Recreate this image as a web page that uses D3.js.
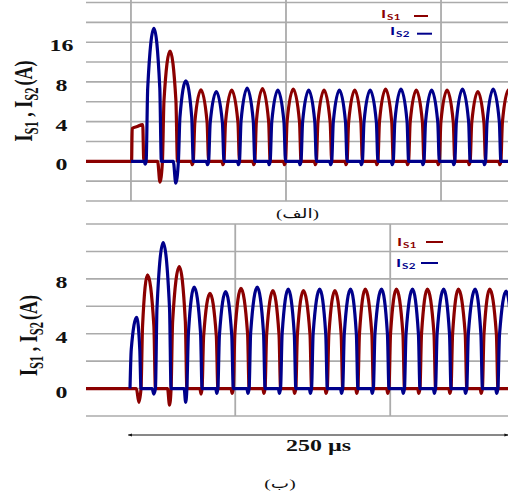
<!DOCTYPE html>
<html>
<head>
<meta charset="utf-8">
<script src="https://cdn.jsdelivr.net/npm/d3@7"></script>
<style>
  body { margin: 0; background: #fff; }
  svg { display: block; }
</style>
</head>
<body>
<svg id="chart" width="508" height="493"></svg>
<script>
// ---- Switch currents I_S1 (red) and I_S2 (blue), time in µs, current in A ----

// tick values and the labels printed beside them
const tickValuesTop = [0, 4, 8, 12];
const tickLabelsTop = ["0", "4", "8", "16"];
const tickValuesBot = [0, 4, 8];
const tickLabelsBot = ["0", "4", "8"];

// grid positions
const gridValuesTop = [-4, -2, 0, 2, 4, 6, 8, 10, 12, 14, 16];
const gridValuesBot = [-2, 0, 2, 4, 6, 8, 10, 12];
const gridTimesTop = [0, 100, 200];
const gridTimesBot = [0, 100, 200];

const seriesKeys = ["S1", "S2"];
const panelLabels = ["(الف)", "(ب)"];
const spanLabel = "250 µs";
const spanTimes = [31, 276];

// panel (الف): [time, current]
const topS1 = [
  [-29,0],[0.4,0],[0.8,3.3],[4.0,3.5],[7.6,3.7],[8.2,0.3],[8.6,0],
  [17.2,0],[18.7,-2.1],[20.3,0],[21.3,6.1],[25.2,11.1],[29.0,6.1],[30.0,0],
  [38.8,0],[39.5,-0.35],[40.2,0],[41.2,3.96],[45.15,7.2],[49.1,3.96],[50.1,0],
  [58.6,0],[59.3,-0.35],[60.0,0],[61.0,3.94],[65.0,7.17],[69.0,3.94],[70.0,0],
  [78.5,0],[79.2,-0.35],[79.9,0],[80.9,4.03],[84.85,7.33],[88.8,4.03],[89.8,0],
  [98.3,0],[99.0,-0.35],[99.7,0],[100.7,4.0],[104.7,7.27],[108.7,4.0],[109.7,0],
  [118.2,0],[118.9,-0.35],[119.6,0],[120.6,3.94],[124.55,7.17],[128.5,3.94],[129.5,0],
  [138.0,0],[138.7,-0.35],[139.4,0],[140.4,3.94],[144.35,7.17],[148.3,3.94],[149.3,0],
  [157.9,0],[158.6,-0.35],[159.3,0],[160.3,4.0],[164.25,7.27],[168.2,4.0],[169.2,0],
  [177.7,0],[178.4,-0.35],[179.1,0],[180.1,3.94],[184.05,7.17],[188.0,3.94],[189.0,0],
  [197.5,0],[198.2,-0.35],[198.9,0],[199.9,3.94],[203.9,7.17],[207.9,3.94],[208.9,0],
  [217.4,0],[218.1,-0.35],[218.8,0],[219.8,3.87],[223.75,7.03],[227.7,3.87],[228.7,0],
  [237.2,0],[237.9,-0.35],[238.6,0],[239.6,3.96],[243.55,7.2],[247.5,3.96],[248.5,0]
];
const topS2 = [
  [0,0],[8.6,0],[9.1,-0.3],[9.8,0],[10.8,7.37],[14.8,13.4],[18.6,7.37],[19.6,0],
  [27.3,0],[28.9,-2.2],[30.6,0],[31.6,4.46],[35.4,8.1],[39.2,4.46],[40.2,0],
  [48.6,0],[49.4,-0.35],[50.1,0],[51.1,3.87],[55.05,7.03],[59.0,3.87],[60.0,0],
  [68.6,0],[69.3,-0.35],[70.0,0],[71.0,4.05],[74.95,7.37],[78.9,4.05],[79.9,0],
  [88.4,0],[89.1,-0.35],[89.8,0],[90.8,3.94],[94.75,7.17],[98.7,3.94],[99.7,0],
  [108.3,0],[109.0,-0.35],[109.7,0],[110.7,3.94],[114.65,7.17],[118.6,3.94],[119.6,0],
  [128.1,0],[128.8,-0.35],[129.5,0],[130.5,3.94],[134.45,7.17],[138.4,3.94],[139.4,0],
  [147.9,0],[148.6,-0.35],[149.3,0],[150.3,3.94],[154.3,7.17],[158.3,3.94],[159.3,0],
  [167.8,0],[168.5,-0.35],[169.2,0],[170.2,4.0],[174.15,7.27],[178.1,4.0],[179.1,0],
  [187.6,0],[188.3,-0.35],[189.0,0],[190.0,3.94],[193.95,7.17],[197.9,3.94],[198.9,0],
  [207.5,0],[208.2,-0.35],[208.9,0],[209.9,4.0],[213.85,7.27],[217.8,4.0],[218.8,0],
  [227.3,0],[228.0,-0.35],[228.7,0],[229.7,4.0],[233.65,7.27],[237.6,4.0],[238.6,0],[250,0]
];

// panel (ب): [time, current]
const botS1 = [
  [3.7,0],[36.2,0],[37.8,-1.0],[39.2,0],[40.2,4.57],[43.4,8.3],[47.5,4.57],[48.5,0],
  [56.3,0],[57.6,-1.2],[58.6,0],[59.6,4.9],[63.9,8.9],[67.8,4.9],[68.8,0],
  [77.2,0],[77.9,-0.4],[78.6,0],[79.6,3.82],[83.7,6.95],[87.8,3.82],[88.8,0],
  [97.3,0],[98.0,-0.35],[98.75,0],[99.75,4.02],[103.7,7.3],[107.95,4.02],[108.95,0],
  [117.8,0],[118.5,-0.35],[119.25,0],[120.25,3.93],[124.3,7.15],[128.25,3.93],[129.25,0],
  [137.6,0],[138.3,-0.35],[139.1,0],[140.1,3.93],[144.0,7.15],[148.25,3.93],[149.25,0],
  [157.9,0],[158.6,-0.35],[159.4,0],[160.4,3.93],[164.3,7.15],[168.35,3.93],[169.35,0],
  [177.7,0],[178.4,-0.35],[179.15,0],[180.15,3.99],[183.9,7.25],[188.15,3.99],[189.15,0],
  [197.7,0],[198.4,-0.35],[199.2,0],[200.2,3.99],[204.0,7.25],[208.2,3.99],[209.2,0],
  [217.7,0],[218.4,-0.35],[219.2,0],[220.2,3.99],[224.0,7.25],[228.25,3.99],[229.25,0],
  [237.8,0],[238.5,-0.35],[239.25,0],[240.25,3.99],[244.0,7.25],[248.4,3.99],[249.4,0],
  [258.0,0],[258.7,-0.35],[259.5,0],[260.5,3.99],[264.2,7.25],[268.5,3.99],[269.5,0],[280,0]
];
const botS2 = [
  [32.1,0],[32.9,2.86],[36.4,5.2],[38.4,2.86],[39.2,0],
  [46.4,0],[47.4,-0.4],[48.5,0],[49.5,5.86],[53.5,10.65],[57.6,5.86],[58.6,0],
  [67.0,0],[68.0,-1.0],[68.8,0],[69.8,4.07],[73.5,7.4],[77.6,4.07],[78.6,0],
  [87.4,0],[88.1,-0.35],[88.8,0],[89.8,3.89],[93.8,7.07],[97.75,3.89],[98.75,0],
  [107.5,0],[108.2,-0.35],[108.95,0],[109.95,4.07],[114.2,7.4],[118.25,4.07],[119.25,0],
  [127.8,0],[128.5,-0.35],[129.25,0],[130.25,3.99],[134.2,7.25],[138.1,3.99],[139.1,0],
  [147.8,0],[148.5,-0.35],[149.25,0],[150.25,3.99],[154.5,7.25],[158.4,3.99],[159.4,0],
  [167.9,0],[168.6,-0.35],[169.35,0],[170.35,3.99],[174.4,7.25],[178.15,3.99],[179.15,0],
  [187.7,0],[188.4,-0.35],[189.15,0],[190.15,3.99],[194.4,7.25],[198.2,3.99],[199.2,0],
  [207.7,0],[208.4,-0.35],[209.2,0],[210.2,3.99],[214.4,7.25],[218.2,3.99],[219.2,0],
  [227.8,0],[228.5,-0.35],[229.25,0],[230.25,3.99],[234.5,7.25],[238.25,3.99],[239.25,0],
  [247.9,0],[248.6,-0.35],[249.4,0],[250.4,3.99],[254.8,7.25],[258.5,3.99],[259.5,0],
  [268.0,0],[268.7,-0.35],[269.5,0],[270.5,3.9],[274.8,7.1],[278.4,3.9],[279.4,0]
];

// ---- drawing ----
const svg = d3.select("#chart");
const colors = { S1: "#8b0000", S2: "#00008b" };
const SX = 1.45;                 // horizontal stretch of the lettering
const serif = "'Liberation Serif', 'Times New Roman', serif";
const arabic = "'Liberation Serif', 'DejaVu Sans', serif";
const sans = "Lato, 'Open Sans', sans-serif";
const gridColor = "#ababab";

function drawPanel(cfg) {
  const x = d3.scaleLinear().domain(cfg.tDomain).range([86, 508]);
  const y = d3.scaleLinear().domain(cfg.yDomain).range(cfg.yRange);
  const g = svg.append("g");

  // horizontal grid
  g.append("g").selectAll("line").data(cfg.gridValues).join("line")
    .attr("x1", 86).attr("x2", 508)
    .attr("y1", d => y(d)).attr("y2", d => y(d))
    .attr("stroke", gridColor).attr("stroke-width", 1.6);

  // vertical grid
  g.append("g").selectAll("line")
    .data(cfg.gridTimes.filter(t => t >= cfg.tDomain[0] && t <= cfg.tDomain[1])).join("line")
    .attr("x1", d => x(d)).attr("x2", d => x(d))
    .attr("y1", cfg.vTop).attr("y2", y(cfg.yDomain[0]))
    .attr("stroke", gridColor).attr("stroke-width", 1.8);

  // y axis labels
  const axis = d3.axisLeft(y)
    .tickValues(cfg.tickValues)
    .tickFormat((d, i) => cfg.tickLabels[i])
    .tickSize(0).tickPadding(0);
  const ax = g.append("g").attr("transform", "translate(86,0)").call(axis);
  ax.select(".domain").remove();
  ax.selectAll("text")
    .attr("x", null).attr("dy", "0.34em")
    .attr("text-anchor", "middle")
    .attr("transform", `translate(${61.5 - 86},3) scale(${SX},1)`)
    .attr("fill", "#111")
    .style("font-family", serif).style("font-weight", "bold").style("font-size", "16.5px");

  // axis title, rotated
  const title = g.append("text")
    .attr("transform", `translate(${cfg.titleX},${cfg.titleY}) scale(${SX},1) rotate(-90)`)
    .attr("text-anchor", "middle")
    .attr("fill", "#111")
    .style("font-family", serif).style("font-weight", "bold").style("font-size", "18px");
  title.append("tspan").text("I");
  title.append("tspan").text("S1").attr("dy", 4).style("font-size", "12.5px");
  title.append("tspan").text(" , ").attr("dy", -4);
  title.append("tspan").text("I");
  title.append("tspan").text("S2").attr("dy", 4).style("font-size", "12.5px");
  title.append("tspan").text("(A)").attr("dy", -4).attr("dx", 2);

  // current traces
  const clipId = "clip-" + cfg.name;
  svg.append("clipPath").attr("id", clipId).append("rect")
    .attr("x", 86).attr("y", cfg.vTop)
    .attr("width", 422).attr("height", y(cfg.yDomain[0]) - cfg.vTop);
  const line = d3.line().x(d => x(d[0])).y(d => y(d[1])).curve(d3.curveMonotoneX);
  const traces = g.append("g").attr("clip-path", `url(#${clipId})`);
  seriesKeys.forEach(k => {
    traces.append("path").datum(cfg.series[k])
      .attr("d", line)
      .attr("fill", "none")
      .attr("stroke", colors[k])
      .attr("stroke-width", 3.2)
      .attr("stroke-linejoin", "round");
  });

  // legend
  seriesKeys.forEach(k => {
    const L = cfg.legend[k];
    const t = g.append("text")
      .attr("transform", `translate(${L.x},${L.y}) scale(${SX},1)`)
      .attr("fill", colors[k])
      .style("font-family", sans).style("font-weight", "bold").style("font-size", "12px");
    t.append("tspan").text("I");
    t.append("tspan").text(k).attr("dy", 1.5).attr("dx", 0.5)
      .style("font-size", "8px").style("letter-spacing", "0.4px");
    g.append("line")
      .attr("x1", L.lx1).attr("x2", L.lx2).attr("y1", L.ly).attr("y2", L.ly)
      .attr("stroke", colors[k]).attr("stroke-width", 2);
  });

  return { x, y };
}

drawPanel({
  name: "a",
  tDomain: [-29, 243.2],
  yDomain: [-4, 16.25], yRange: [201, 0],
  vTop: 0,
  gridValues: gridValuesTop, gridTimes: gridTimesTop,
  tickValues: tickValuesTop, tickLabels: tickLabelsTop,
  titleX: 32, titleY: 101,
  series: { S1: topS1, S2: topS2 },
  legend: {
    S1: { x: 381, y: 18, lx1: 414, lx2: 428, ly: 16 },
    S2: { x: 390, y: 35.3, lx1: 417, lx2: 432, ly: 33.7 }
  }
});

const bot = drawPanel({
  name: "b",
  tDomain: [3.7, 276],
  yDomain: [-2, 12], yRange: [416, 224],
  vTop: 224,
  gridValues: gridValuesBot, gridTimes: gridTimesBot,
  tickValues: tickValuesBot, tickLabels: tickLabelsBot,
  titleX: 36.7, titleY: 335.5,
  series: { S1: botS1, S2: botS2 },
  legend: {
    S1: { x: 397, y: 246, lx1: 426, lx2: 443, ly: 242 },
    S2: { x: 396, y: 267, lx1: 421, lx2: 438, ly: 263 }
  }
});

// panel captions
svg.append("text")
  .attr("transform", `translate(297.5,218) scale(${SX},1)`)
  .attr("text-anchor", "middle").attr("fill", "#111")
  .style("font-family", arabic).style("font-size", "13px")
  .text(panelLabels[0]);
svg.append("text")
  .attr("transform", `translate(280,487.5) scale(${SX},1)`)
  .attr("text-anchor", "middle").attr("fill", "#111")
  .style("font-family", arabic).style("font-size", "13.5px")
  .text(panelLabels[1]);

// time-span marker under the lower panel
const ax0 = bot.x(spanTimes[0]), ax1 = bot.x(spanTimes[1]);
const defs = svg.append("defs");
defs.append("marker").attr("id", "arrow")
  .attr("viewBox", "0 0 10 10").attr("refX", 9).attr("refY", 5)
  .attr("markerWidth", 6).attr("markerHeight", 4).attr("orient", "auto-start-reverse")
  .append("path").attr("d", "M0,1 L10,5 L0,9 Z").attr("fill", "#111");
svg.append("line")
  .attr("x1", ax0).attr("x2", ax1).attr("y1", 435).attr("y2", 435)
  .attr("stroke", "#111").attr("stroke-width", 1)
  .attr("marker-start", "url(#arrow)").attr("marker-end", "url(#arrow)");
svg.append("text")
  .attr("transform", `translate(318.5,451) scale(${SX},1)`)
  .attr("text-anchor", "middle").attr("fill", "#111")
  .style("font-family", serif).style("font-weight", "bold").style("font-size", "16.5px")
  .text(spanLabel);
</script>
</body>
</html>
